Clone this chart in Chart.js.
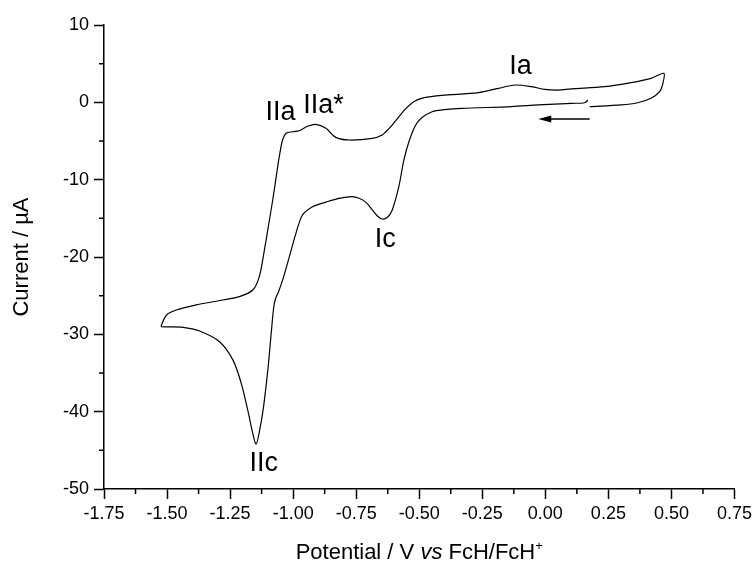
<!DOCTYPE html>
<html>
<head>
<meta charset="utf-8">
<script src="https://cdn.jsdelivr.net/npm/chart.js@4.4.0/dist/chart.umd.min.js"></script>
<style>
  html, body { margin: 0; padding: 0; background: #fff; }
</style>
</head>
<body>
<canvas id="cv" width="756" height="562"></canvas>
<script>
// cyclic voltammogram, scan starts near 0.17 V going negative
const potential = [
  0.169, 0.156, 0.103, -0.028, -0.134, -0.331, -0.400, -0.449, -0.490, -0.515,
  -0.540, -0.561, -0.581, -0.607, -0.627, -0.647, -0.666, -0.686, -0.712, -0.739,
  -0.765, -0.818, -0.870, -0.923, -0.963, -0.989, -1.015, -1.040, -1.058, -1.070,
  -1.077, -1.086, -1.100, -1.118, -1.134, -1.147, -1.160, -1.180, -1.206, -1.239,
  -1.292, -1.371, -1.437, -1.522,
  -1.522, -1.502, -1.463, -1.384, -1.279, -1.213, -1.160, -1.134, -1.114, -1.097,
  -1.081, -1.068, -1.055, -1.042, -1.028, -1.002, -0.976, -0.943, -0.910, -0.870,
  -0.831, -0.778, -0.686, -0.647, -0.620, -0.594, -0.557, -0.522, -0.480, -0.410,
  -0.265, -0.186, -0.120, -0.054, -0.002, 0.051, 0.103, 0.235, 0.340, 0.419,
  0.470, 0.466, 0.453, 0.419, 0.366, 0.301, 0.176
];
const current = [
  0.30, -0.05, -0.13, -0.34, -0.56, -0.78, -0.95, -1.21, -2.00, -3.00,
  -5.00, -7.46, -10.91, -13.92, -14.90, -15.09, -14.70, -13.92, -12.90, -12.41,
  -12.20, -12.41, -12.90, -13.49, -14.57, -16.94, -19.96, -22.80, -24.50, -25.40,
  -26.50, -29.50, -34.50, -39.50, -42.60, -44.20, -42.80, -39.80, -36.30, -33.30,
  -30.95, -29.57, -29.09, -29.01,
  -28.80, -27.50, -26.86, -26.20, -25.56, -25.13, -24.27, -22.50, -19.10, -15.80,
  -12.63, -9.80, -7.03, -4.87, -4.00, -3.80, -3.67, -3.10, -2.85, -3.36,
  -4.53, -4.87, -4.65, -4.22, -3.40, -2.40, -0.95, 0.08, 0.60, 0.90,
  1.25, 1.81, 2.24, 2.02, 1.68, 1.59, 1.75, 2.02, 2.54, 3.10,
  3.75, 2.46, 1.37, 0.52, -0.05, -0.34, -0.56
];

const xTickLabels = ['-1.75', '-1.50', '-1.25', '-1.00', '-0.75', '-0.50', '-0.25', '0.00', '0.25', '0.50', '0.75'];
const yTickLabels = ['-50', '-40', '-30', '-20', '-10', '0', '10'];

const peakNames = ['Ia', 'IIa', 'IIa*', 'Ic', 'IIc'];
const peakLabelV = [-0.143, -1.110, -0.960, -0.676, -1.173];
const peakLabelI = [3.66, -2.29, -1.42, -18.75, -47.64];

// scan direction arrow (tail -> head)
const arrowV = [0.176, -0.028];
const arrowI = [-2.16, -2.16];

const FONT = "'Liberation Sans', Arial, sans-serif";

const points = potential.map((v, i) => ({ x: v, y: current[i] }));

const extras = {
  id: 'extras',
  afterDraw(chart) {
    const ctx = chart.ctx;
    const x = chart.scales.x, y = chart.scales.y;
    ctx.save();
    ctx.strokeStyle = '#000';
    ctx.fillStyle = '#000';
    ctx.lineWidth = 1.5;

    // minor ticks
    ctx.beginPath();
    for (let v = -1.625; v < 0.75; v += 0.25) {
      const px = x.getPixelForValue(v);
      ctx.moveTo(px, x.top);
      ctx.lineTo(px, x.top + 5);
    }
    for (let v = -45; v < 10; v += 10) {
      const py = y.getPixelForValue(v);
      ctx.moveTo(y.right, py);
      ctx.lineTo(y.right - 5, py);
    }
    ctx.stroke();

    // arrow
    const ax0 = x.getPixelForValue(arrowV[0]), ax1 = x.getPixelForValue(arrowV[1]);
    const ay = y.getPixelForValue(arrowI[0]);
    ctx.beginPath();
    ctx.moveTo(ax0, ay);
    ctx.lineTo(ax1 + 10, ay);
    ctx.stroke();
    ctx.beginPath();
    ctx.moveTo(ax1, ay);
    ctx.lineTo(ax1 + 13, ay - 3.5);
    ctx.lineTo(ax1 + 13, ay + 3.5);
    ctx.closePath();
    ctx.fill();

    // peak labels
    ctx.font = '27px ' + FONT;
    ctx.textAlign = 'left';
    ctx.textBaseline = 'alphabetic';
    peakNames.forEach((t, i) => {
      ctx.fillText(t, x.getPixelForValue(peakLabelV[i]), y.getPixelForValue(peakLabelI[i]));
    });

    // x axis title with italic "vs" and superscript "+"
    const parts = [
      { t: 'Potential / V ', f: '22px ' + FONT, dy: 0 },
      { t: 'vs', f: 'italic 22px ' + FONT, dy: 0 },
      { t: ' FcH/FcH', f: '22px ' + FONT, dy: 0 },
      { t: '+', f: '13px ' + FONT, dy: -9 }
    ];
    let total = 0;
    parts.forEach(p => { ctx.font = p.f; p.w = ctx.measureText(p.t).width; total += p.w; });
    let cx = (x.left + x.right) / 2 - total / 2;
    const base = x.bottom - 3;
    parts.forEach(p => {
      ctx.font = p.f;
      ctx.fillText(p.t, cx, base + p.dy);
      cx += p.w;
    });
    ctx.restore();
  }
};

new Chart(document.getElementById('cv'), {
  type: 'line',
  data: {
    datasets: [{
      data: points,
      borderColor: '#000',
      borderWidth: 1.2,
      pointRadius: 0,
      tension: 0.3,
      fill: false
    }]
  },
  options: {
    responsive: false,
    devicePixelRatio: 1,
    animation: false,
    layout: { padding: { top: 25, right: 20, left: 0, bottom: 0 } },
    plugins: { legend: { display: false }, tooltip: { enabled: false } },
    scales: {
      x: {
        type: 'linear',
        min: -1.75,
        max: 0.75,
        afterFit(scale) { scale.height = 73; },
        ticks: {
          stepSize: 0.25,
          padding: 4,
          color: '#000',
          font: { family: FONT, size: 18 },
          maxRotation: 0,
          autoSkip: false,
          callback: (v, i) => xTickLabels[i]
        },
        grid: { drawOnChartArea: false, drawTicks: true, tickLength: 10, tickWidth: 1.5, tickColor: '#000' },
        border: { display: true, color: '#000', width: 1.5 },
        title: { display: false }
      },
      y: {
        type: 'linear',
        min: -50,
        max: 10,
        afterFit(scale) { scale.width = 104; },
        ticks: {
          stepSize: 10,
          padding: 5,
          color: '#000',
          font: { family: FONT, size: 18 },
          callback: (v, i) => yTickLabels[i]
        },
        grid: { drawOnChartArea: false, drawTicks: true, tickLength: 10, tickWidth: 1.5, tickColor: '#000' },
        border: { display: true, color: '#000', width: 1.5 },
        title: {
          display: true,
          text: 'Current / µA',
          color: '#000',
          font: { family: FONT, size: 22 },
          padding: { top: 9, bottom: 0 }
        }
      }
    }
  },
  plugins: [extras]
});
</script>
</body>
</html>
